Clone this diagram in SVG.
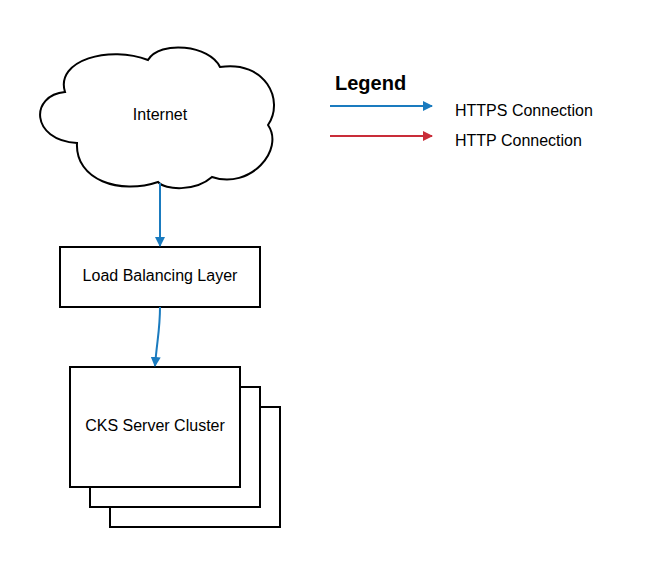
<svg xmlns="http://www.w3.org/2000/svg" width="670" height="567" viewBox="0 0 670 567">
<defs>
<marker id="ab" markerWidth="10" markerHeight="10" refX="9" refY="5" orient="auto" markerUnits="userSpaceOnUse"><path d="M0,0 L10,5 L0,10 Z" fill="#1a7bbf"/></marker>
<marker id="ar" markerWidth="10" markerHeight="10" refX="9" refY="5" orient="auto" markerUnits="userSpaceOnUse"><path d="M0,0 L10,5 L0,10 Z" fill="#c92d39"/></marker>
</defs>
<style>
text{font-family:"Liberation Sans",Arial,sans-serif;font-size:16px;fill:#000}
.box{fill:#fff;stroke:#000;stroke-width:2}
.b{stroke:#1a7bbf;stroke-width:2;fill:none}
.r{stroke:#c92d39;stroke-width:2;fill:none}
</style>
<rect width="670" height="567" fill="#fff"/>
<g id="internet">
<path class="box" d="M65,92 C55,60 110,45 148,60 C160,40 210,45 220,67 C265,60 285,100 268,125 C285,150 250,190 212,177 C195,192 165,190 158,182 C120,195 75,180 77,143 C30,140 30,95 65,92 Z"/>
<text x="160" y="120" text-anchor="middle">Internet</text>
</g>
<g id="lb">
<rect class="box" x="60" y="247" width="200" height="60"/>
<text x="160" y="281" text-anchor="middle">Load Balancing Layer</text>
</g>
<g id="cluster">
<rect class="box" x="110" y="407" width="170" height="120"/>
<rect class="box" x="90" y="387" width="170" height="120"/>
<rect class="box" x="70" y="367" width="170" height="120"/>
<text x="155" y="431" text-anchor="middle">CKS Server Cluster</text>
</g>
<g id="legend">
<text x="335" y="90" font-weight="bold" style="font-size:20px">Legend</text>
<text x="455" y="116">HTTPS Connection</text>
<text x="455" y="146">HTTP Connection</text>
</g>
<g id="connectors">
<path class="b" d="M160,183 L160,246" marker-end="url(#ab)"/>
<path class="b" d="M160,307 C160,330 157,340 155,366" marker-end="url(#ab)"/>
<path class="b" d="M330,106 L432,106" marker-end="url(#ab)"/>
<path class="r" d="M330,136 L432,136" marker-end="url(#ar)"/>
</g>
</svg>
